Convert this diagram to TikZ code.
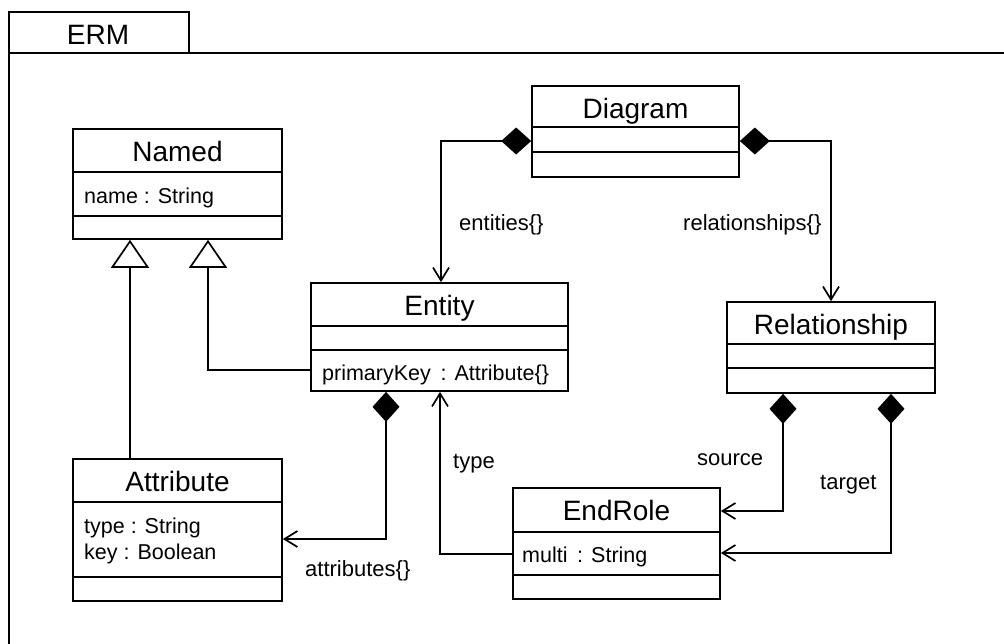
\documentclass[tikz,border=0pt]{standalone}
\usepackage{fontspec}
\setmainfont{Liberation Sans}
\usetikzlibrary{arrows.meta}

\tikzset{
  line/.style={line width=1.7pt, line join=miter},
  classbox/.style={line, draw, fill=white, inner sep=0pt, rectangle},
  titletext/.style={font=\fontsize{28}{32}\selectfont, inner sep=0pt, anchor=base},
  membertext/.style={font=\fontsize{21.5}{26}\selectfont, inner sep=0pt, anchor=base west},
  rolelabel/.style={font=\fontsize{22}{26}\selectfont, inner sep=0pt, anchor=base west},
  gen/.style={line, -{Triangle[open, fill=white, length=28pt, width=38pt]}},
  assoc/.style={line, -{Straight Barb[length=13pt, width=16pt]}},
  comp/.style={line, {Diamond[length=30pt, width=27pt]}-{Straight Barb[length=13pt, width=16pt]}},
}

% class box: name, left, top, right, bottom, divider 1, divider 2, title
\newcommand\umlclass[8]{%
  \pgfmathsetmacro\cw{#4-#2}%
  \pgfmathsetmacro\ch{#5-#3}%
  \node[classbox, minimum width=\cw pt, minimum height=\ch pt] (#1) at ({(#2+#4)/2},{(#3+#5)/2}) {};
  \draw[line] (#1.west |- 0,#6) -- (#1.east |- 0,#6)
              (#1.west |- 0,#7) -- (#1.east |- 0,#7);
  \node[titletext] (#1-title) at ({(#2+#4)/2},{#3+32}) {#8};
}

\begin{document}
\begin{tikzpicture}[x=1pt, y=-1pt]
  \useasboundingbox (0,0) rectangle (1004,643);
  \clip (0,0) rectangle (1004,643);

  % package frame with its name tab
  \draw[line] (9,53) rectangle (1015,660);
  \node[line, draw, inner sep=0pt, minimum width=180pt, minimum height=41pt] (tab) at (99,32.5) {};
  \node[titletext] (tabname) at (98,44) {ERM};

  % classes
  \umlclass{named}{73}{129}{282}{239}{172}{216}{Named}
  \node[membertext] (namedattr) at (84,203) {name : String};

  \umlclass{entity}{311}{283}{568}{391}{326}{350}{Entity}
  \node[membertext] (entityattr) at (322,380) {primaryKey\hspace{0.45em}: Attribute\{\}};

  \umlclass{attribute}{73}{459}{282}{601}{502}{577}{Attribute}
  \node[membertext] (attrtype) at (84,533) {type : String};
  \node[membertext] (attrkey) at (84,559) {key : Boolean};

  \umlclass{diagram}{532}{86}{739}{177}{127}{152}{Diagram}

  \umlclass{relationship}{727}{302}{935}{393}{344}{368}{Relationship}

  \umlclass{endrole}{513}{488}{720}{599}{532}{575}{EndRole}
  \node[membertext] (endroleattr) at (522,562) {multi\hspace{0.45em}: String};

  % generalizations
  \draw[gen] (attribute.north -| 130,0) -- (named.south -| 130,0);
  \draw[gen] (entity.west |- 0,370) -| (named.south -| 208,0);

  % compositions
  \draw[comp] (diagram.west |- 0,141) -| (entity.north -| 441,0);
  \draw[comp] (diagram.east |- 0,141) -| (relationship.north -| 831,0);
  \draw[comp] (entity.south -| 386,0) |- (attribute.east |- 0,539);
  \draw[comp] (relationship.south -| 783,0) |- (endrole.east |- 0,511);
  \draw[comp] (relationship.south -| 891,0) |- (endrole.east |- 0,553);

  % association
  \draw[assoc] (endrole.west |- 0,554) -| (entity.south -| 440,0);

  % role labels
  \node[rolelabel] (lentities) at (459,230) {entities\{\}};
  \node[rolelabel] (lrels) at (683,230) {relationships\{\}};
  \node[rolelabel] (lattrs) at (305,576) {attributes\{\}};
  \node[rolelabel] (ltype) at (453,468) {type};
  \node[rolelabel] (lsource) at (697,465) {source};
  \node[rolelabel] (ltarget) at (820,489) {target};
\end{tikzpicture}
\end{document}
